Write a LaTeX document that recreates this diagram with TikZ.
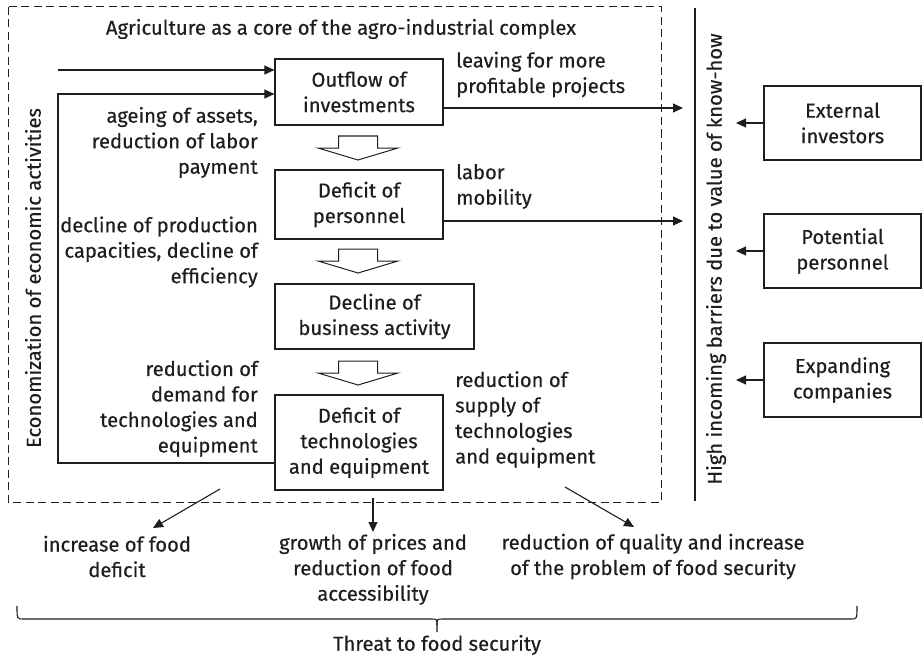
\documentclass[tikz,border=0pt]{standalone}
\usepackage{fontspec}
\setmainfont[FakeBold=0.4]{Fira Sans}
\usetikzlibrary{arrows.meta}
\definecolor{ink}{RGB}{30,30,30}
\newcommand\blockarr[2]{\draw[line width=1pt, draw=ink] (#1-19.5,#2) -- (#1+19.5,#2) -- (#1+19.5,#2+12) -- (#1+40,#2+12) -- (#1,#2+24) -- (#1-40,#2+12) -- (#1-19.5,#2+12) -- cycle;}
\begin{document}
\begin{tikzpicture}[x=1pt,y=-1pt,
  every node/.style={font=\fontsize{20.2}{25.5}\selectfont, text=ink, inner sep=0pt},
  box/.style={draw=ink, line width=1.2pt, align=center},
  lbl/.style={align=right, anchor=east},
  rlbl/.style={align=left, anchor=west},
  blbl/.style={align=center},
  arr/.style={draw=ink, line width=1.1pt, -{Triangle[length=10pt,width=9pt]}},
  ln/.style={draw=ink, line width=1.1pt}]
\useasboundingbox (0,0) rectangle (923,658);
% frames
\draw[draw=ink, line width=1pt, dash pattern=on 8pt off 4.5pt] (8,7) rectangle (661,502);
\draw[ln] (695,8) -- (695,501);
% main boxes
\node[box, minimum width=168pt, minimum height=66pt] (out) at (359,92) {Outflow of\\investments};
\node[box, minimum width=168pt, minimum height=69pt] (pers) at (359,204.5) {Deficit of\\personnel};
\node[box, minimum width=199pt, minimum height=65pt] (decl) at (374.5,316.5) {Decline of\\business activity};
\node[box, minimum width=168pt, minimum height=95pt] (tech) at (359,442.5) {Deficit of\\technologies\\and equipment};
% external boxes
\node[box, minimum width=157pt, minimum height=74pt] (ext) at (842.5,123) {External\\investors};
\node[box, minimum width=157pt, minimum height=74pt] (pot) at (842.5,251) {Potential\\personnel};
\node[box, minimum width=157pt, minimum height=74pt] (expc) at (842.5,380) {Expanding\\companies};
% texts
\node (title) at (341,29) {Agriculture as a core of the agro-industrial complex};
\node[lbl] (l1) at (258,142.5) {ageing of assets,\\reduction of labor\\payment};
\node[lbl] (l2) at (258,252) {decline of production\\capacities, decline of\\efficiency};
\node[lbl] (l3) at (258,408.5) {reduction of\\demand for\\technologies and\\equipment};
\node[rlbl] (r1) at (456,74.5) {leaving for more\\profitable projects};
\node[rlbl] (r2) at (456,186.5) {labor\\mobility};
\node[rlbl] (r3) at (455,419.5) {reduction of\\supply of\\technologies\\and equipment};
\node[rotate=90] (econ) at (33,278) {Economization of economic activities};
\node[rotate=90] (barr) at (716,259) {High incoming barriers due to value of know-how};
\node[blbl] (b1) at (117,556.5) {increase of food\\deficit};
\node[blbl] (b2) at (373,569.5) {growth of prices and\\reduction of food\\accessibility};
\node[blbl] (b3) at (653,556.5) {reduction of quality and increase\\of the problem of food security};
\node (threat) at (437,645) {Threat to food security};
% block arrows
\blockarr{358}{136}
\blockarr{358}{249}
\blockarr{358}{361}
% connectors
\coordinate (in1) at (58,70);
\coordinate (lt) at (58,94);
\coordinate (lb) at (58,463);
\draw[arr] (in1) -- (in1 -| out.west);
\draw[arr] (lb -| tech.west) -- (lb) -- (lt) -- (lt -| out.west);
\coordinate (e1) at (683,108);
\coordinate (e2) at (683,221);
\draw[arr] (e1 -| out.east) -- (e1);
\draw[arr] (e2 -| pers.east) -- (e2);
\coordinate (bar) at (736,0);
\draw[arr] (ext.west) -- (ext.west -| bar);
\draw[arr] (pot.west) -- (pot.west -| bar);
\draw[arr] (expc.west) -- (expc.west -| bar);
\coordinate (s1) at (220,489);
\coordinate (t1) at (153,528);
\coordinate (s2) at (373,498);
\coordinate (t2) at (373,532);
\coordinate (s3) at (565,487);
\coordinate (t3) at (634,527);
\draw[arr] (s1) -- (t1);
\draw[arr] (s2) -- (t2);
\draw[arr] (s3) -- (t3);
% brace
\draw[ln] (17,606) .. controls (17,619) .. (23,619) -- (431,619) .. controls (437,619) .. (437,625) -- (437,632);
\draw[ln] (437,625) .. controls (437,619) .. (443,619) -- (851,619) .. controls (857,619) .. (857,606);
\end{tikzpicture}
\end{document}
